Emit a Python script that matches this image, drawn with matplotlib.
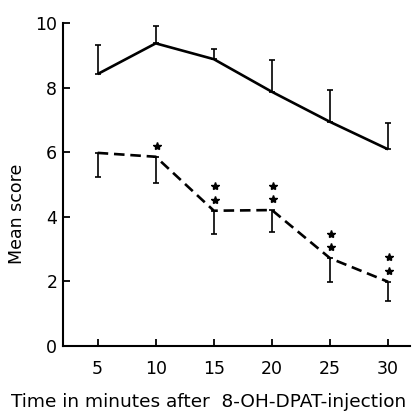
import matplotlib
matplotlib.use("Agg")
import matplotlib.pyplot as plt
from matplotlib.transforms import offset_copy

# time after injection (min)
minutes = [5, 10, 15, 20, 25, 30]
# control group (solid line) and error (upper only)
ctrl_mean = [8.42, 9.37, 8.88, 7.87, 6.94, 6.09]
ctrl_err = [0.90, 0.55, 0.32, 0.98, 0.98, 0.82]
# treated group (dashed line) and error (lower only)
trt_mean = [5.98, 5.86, 4.19, 4.21, 2.72, 1.99]
trt_err = [0.74, 0.82, 0.72, 0.67, 0.73, 0.59]
# number of significance stars above each treated point
stars = [0, 1, 2, 2, 2, 2]

plt.rcParams['font.family'] = ['DejaVu Sans']
fig = plt.figure(figsize=(4.16, 4.18), dpi=100)
ax = fig.add_axes([0.151, 0.172, 0.835, 0.773])

ax.plot(minutes, ctrl_mean, color='black', lw=1.9, solid_capstyle='butt')
ax.errorbar(minutes, ctrl_mean, yerr=[[0]*6, ctrl_err], fmt='none',
            ecolor='black', elinewidth=1.2, capsize=2.5, capthick=1.2)

ax.plot(minutes, trt_mean, color='black', lw=1.9, dashes=(4, 2.2))
ax.errorbar(minutes, trt_mean, yerr=[trt_err, [0]*6], fmt='none',
            ecolor='black', elinewidth=1.2, capsize=2.5, capthick=1.2)

# stars: stacked above the treated points
for k in range(2):
    xs = [x for x, n in zip(minutes, stars) if n > k]
    ys = [y for y, n in zip(trt_mean, stars) if n > k]
    tr = offset_copy(ax.transData, fig=fig, x=1, y=8 + 9.5 * k, units='points')
    ax.plot(xs, ys, ls='none', marker='*', ms=6, color='black', transform=tr)

ax.set_xlim(2, 31.9)
ax.set_ylim(0, 10)
ax.set_xticks(minutes)
ax.set_yticks([0, 2, 4, 6, 8, 10])
ax.spines['top'].set_visible(False)
ax.spines['right'].set_visible(False)
ax.spines['left'].set_linewidth(1.5)
ax.spines['bottom'].set_linewidth(1.5)
ax.tick_params(direction='in', length=5, width=1.3, labelsize=12.5)
ax.tick_params(axis='x', pad=10)
ax.tick_params(axis='y', pad=4)

ax.set_ylabel('Mean score', fontsize=12.5)
ax.yaxis.set_label_coords(-0.105, 0.41)
ax.set_xlabel('Time in minutes after  8-OH-DPAT-injection', fontsize=13.3)
ax.xaxis.set_label_coords(0.42, -0.145)

fig.savefig('out.png', dpi=100)
